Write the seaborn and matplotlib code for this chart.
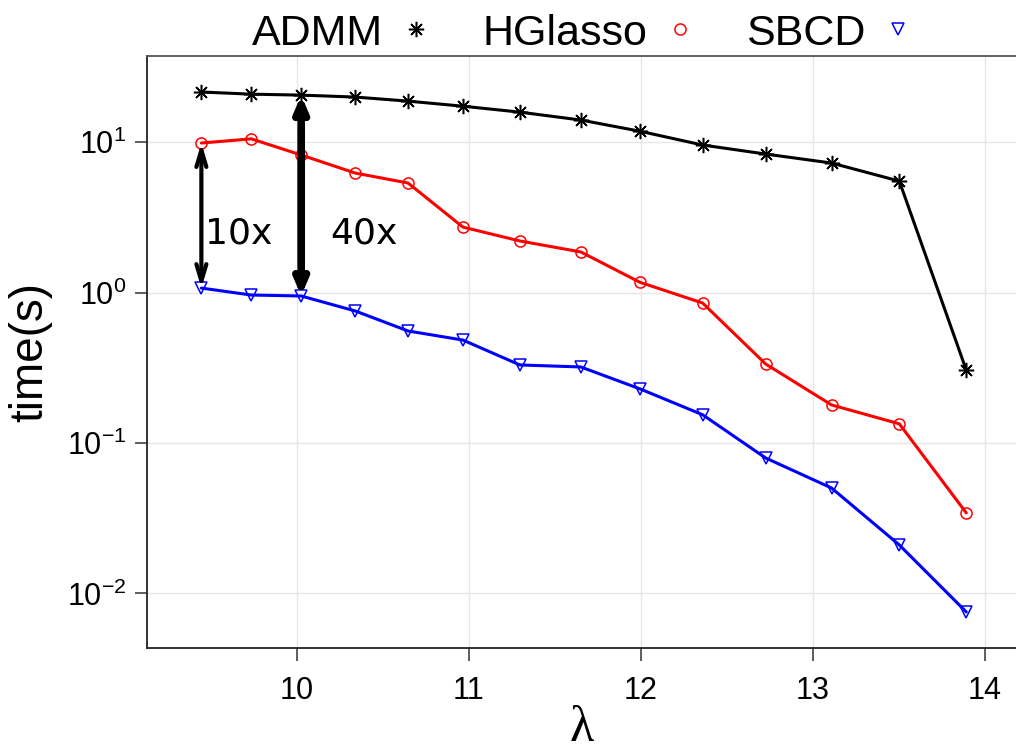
import numpy as np
import pandas as pd
import matplotlib
matplotlib.use("Agg")
import matplotlib.pyplot as plt
import seaborn as sns
from matplotlib.lines import Line2D

# ---- data ----
lam = [9.446, 9.736, 10.026, 10.34, 10.647, 10.966, 11.297, 11.651,
       11.994, 12.359, 12.725, 13.108, 13.502, 13.891]
admm = [21.5, 20.8, 20.5, 19.9, 18.7, 17.3, 15.8, 14.0, 11.8, 9.55, 8.32, 7.25, 5.5, 0.305]
hglasso = [9.85, 10.5, 8.2, 6.22, 5.34, 2.72, 2.20, 1.86, 1.17, 0.851, 0.335, 0.179, 0.134, 0.0343]
sbcd = [1.07, 0.962, 0.948, 0.754, 0.555, 0.483, 0.330, 0.320, 0.229, 0.154, 0.0795, 0.0502, 0.0210, 0.00754]
methods = ["ADMM", "HGlasso", "SBCD"]
colors = ["black", "red", "blue"]
annot_labels = ["10x", "40x"]

df = pd.DataFrame({
    "lambda": lam * 3,
    "time": admm + hglasso + sbcd,
    "method": [m for m in methods for _ in lam],
})

sns.set_theme(style="whitegrid")
plt.rcParams["font.family"] = ["Liberation Sans", "DejaVu Sans"]
plt.rcParams["mathtext.fontset"] = "custom"
plt.rcParams["mathtext.rm"] = "Liberation Sans"
plt.rcParams["mathtext.it"] = "Liberation Sans:italic"
plt.rcParams["mathtext.bf"] = "Liberation Sans:bold"
plt.rcParams["text.color"] = "black"
plt.rcParams["axes.labelcolor"] = "black"
plt.rcParams["xtick.color"] = "black"
plt.rcParams["ytick.color"] = "black"

fig = plt.figure(figsize=(10.16, 7.52), dpi=100)
ax = fig.add_axes([147 / 1016, 1 - 648 / 752, (1016 - 147) / 1016, (648 - 56) / 752])
ax.set_facecolor("white")

markers = [(8, 2, 0), "o", "v"]
msizes = [11, 8, 9]
for m, c, mk, ms in zip(methods, colors, markers, msizes):
    sns.lineplot(data=df[df["method"] == m], x="lambda", y="time", color=c,
                 marker=mk, markersize=ms, markerfacecolor="none",
                 markeredgecolor=c, markeredgewidth=1.1, linewidth=2.2,
                 ax=ax, legend=False, zorder=3)

ax.set_yscale("log")
ax.set_xlim(9.13, 14.18)
ax.set_ylim(0.00434, 37.3)
ax.set_xticks([10, 11, 12, 13, 14])
ax.set_yticks([0.01, 0.1, 1, 10])
ax.minorticks_off()
ax.grid(True, which="major", color="#e6e6e6", linewidth=1.0)

for side in ["left", "bottom", "top"]:
    ax.spines[side].set_visible(True)
    ax.spines[side].set_color("#222222")
    ax.spines[side].set_linewidth(1.3)
ax.spines["top"].set_color("#555555")
ax.spines["right"].set_visible(False)

ax.tick_params(axis="both", which="major", length=9, width=1.1, color="#333333",
               labelsize=22, labelcolor="black", direction="out",
               bottom=True, left=True)
ax.tick_params(axis="x", pad=11)
ax.tick_params(axis="y", pad=6)

ax.set_xlabel("λ", fontsize=36, family=["Liberation Serif", "DejaVu Serif"],
              labelpad=0, color="black")
ax.set_ylabel("time(s)", fontsize=33, labelpad=10, color="black")

# arrows showing speed-up
ax.annotate("", xy=(lam[0], hglasso[0]), xytext=(lam[0], sbcd[0]),
            arrowprops=dict(arrowstyle="<->,head_length=1.0,head_width=0.3",
                            color="black", lw=3, shrinkA=0, shrinkB=0), zorder=4)
ax.annotate("", xy=(lam[2], admm[2]), xytext=(lam[2], sbcd[2]),
            arrowprops=dict(arrowstyle="<->,head_length=0.75,head_width=0.32",
                            color="black", lw=5.5, shrinkA=0, shrinkB=0), zorder=4)
ax.text(9.469, 2.45, annot_labels[0], fontsize=26, family="DejaVu Sans",
        ha="left", va="center", zorder=5, color="black")
ax.text(10.194, 2.45, annot_labels[1], fontsize=26, family="DejaVu Sans",
        ha="left", va="center", zorder=5, color="black")

handles = [Line2D([], [], color=c, marker=mk, markersize=ms, markerfacecolor="none",
                  markeredgecolor=c, markeredgewidth=1.1, linestyle="none")
           for c, mk, ms in zip(colors, markers, msizes)]
leg = ax.legend(handles, methods, loc="center", bbox_to_anchor=(0.505, 1.038),
                ncol=3, frameon=False, markerfirst=False, fontsize=31,
                handlelength=1.0, handletextpad=0.25, columnspacing=1.05,
                borderaxespad=0.0, borderpad=0.0)
for t in leg.get_texts():
    t.set_color("black")

fig.savefig("out.png", dpi=100, facecolor="white")
